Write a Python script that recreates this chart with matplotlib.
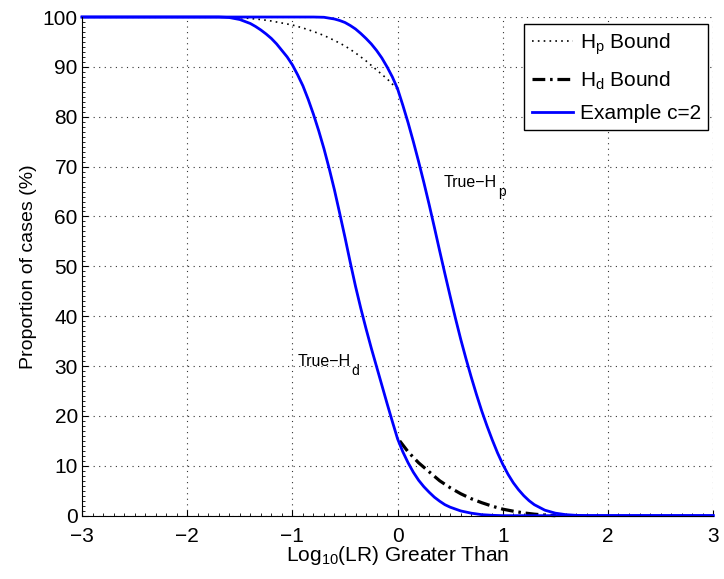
import matplotlib
matplotlib.use('Agg')
import matplotlib.pyplot as plt
from matplotlib.ticker import MultipleLocator

plt.rcParams['font.family'] = ['Liberation Sans', 'DejaVu Sans']
plt.rcParams['mathtext.fontset'] = 'custom'
plt.rcParams['mathtext.rm'] = 'Liberation Sans'
plt.rcParams['mathtext.it'] = 'Liberation Sans:italic'

# True-Hd example curve (c=2)
hd_x = [-3.0, -1.7, -1.6, -1.5, -1.45, -1.4, -1.35, -1.3, -1.25, -1.2, -1.15, -1.1,
        -1.05, -1.0, -0.95, -0.9, -0.85, -0.8, -0.75, -0.7, -0.65, -0.6, -0.55, -0.5,
        -0.45, -0.4, -0.35, -0.3, -0.25, -0.2, -0.15, -0.1, -0.05, 0.0, 0.05, 0.1,
        0.15, 0.2, 0.25, 0.3, 0.35, 0.4, 0.45, 0.5, 0.6, 0.7, 0.8, 0.9, 1.0, 3.0]
hd_y = [100, 100, 99.9, 99.5, 99.1, 98.7, 98.1, 97.4, 96.6, 95.7, 94.6, 93.3,
        92.0, 90.4, 88.4, 86.2, 83.5, 80.5, 77.2, 73.6, 69.6, 65.3, 60.6, 55.8,
        50.8, 46.0, 41.6, 37.5, 33.6, 29.9, 26.2, 22.5, 18.9, 15.4, 12.8, 10.6,
        8.7, 7.1, 5.8, 4.7, 3.7, 2.9, 2.2, 1.7, 0.95, 0.5, 0.2, 0.07, 0, 0]

# True-Hp example curve (c=2)
hp_x = [-3.0, -0.8, -0.7, -0.6, -0.55, -0.5, -0.45, -0.4, -0.35, -0.3, -0.25, -0.2,
        -0.15, -0.1, -0.05, 0.0, 0.05, 0.1, 0.15, 0.2, 0.25, 0.3, 0.35, 0.4, 0.45,
        0.5, 0.55, 0.6, 0.65, 0.7, 0.75, 0.8, 0.85, 0.9, 0.95, 1.0, 1.05, 1.1, 1.15,
        1.2, 1.25, 1.3, 1.4, 1.5, 1.6, 1.7, 1.8, 3.0]
hp_y = [100, 100, 99.95, 99.6, 99.3, 98.9, 98.3, 97.6, 96.7, 95.7, 94.6, 93.3,
        91.8, 90.0, 88.0, 85.6, 82.3, 78.8, 75.0, 71.0, 66.8, 62.4, 57.8, 53.1, 48.5,
        44.0, 39.6, 35.4, 31.5, 27.8, 24.3, 21.0, 18.0, 15.2, 12.6, 10.3, 8.3, 6.6, 5.2,
        4.0, 3.0, 2.2, 1.1, 0.5, 0.2, 0.06, 0, 0]

# bounds
hpb_x = [-1.6, -1.5, -1.4, -1.3, -1.2, -1.1, -1.0, -0.9, -0.8, -0.7, -0.6, -0.5,
         -0.4, -0.3, -0.2, -0.1, 0.0]
hpb_y = [100, 99.9, 99.7, 99.5, 99.2, 98.8, 98.4, 97.8, 97.1, 96.3, 95.3, 94.2,
         92.8, 91.2, 89.4, 87.6, 85.5]
hdb_x = [0.02, 0.1, 0.2, 0.3, 0.4, 0.5, 0.6, 0.7, 0.8, 0.9, 1.0, 1.1, 1.2, 1.3, 1.4, 1.5]
hdb_y = [15.0, 12.8, 10.6, 8.8, 7.0, 5.6, 4.4, 3.4, 2.6, 1.9, 1.3, 0.9, 0.55, 0.3, 0.12, 0]

fig = plt.figure(figsize=(7.24, 5.79), dpi=100)
ax = fig.add_axes([0.1133, 0.1094, 0.8717, 0.8612])

ax.plot(hpb_x, hpb_y, color='k', lw=1.2, ls=(0, (1, 2.5)), label=r'H$_\mathrm{p}$ Bound', clip_on=False)
ax.plot(hdb_x, hdb_y, color='k', lw=2.3, ls=(0, (4, 1.5, 0.8, 1.5)), label=r'H$_\mathrm{d}$ Bound', clip_on=False)
ax.plot(hd_x, hd_y, color='#0000ff', lw=2, label='Example c=2', clip_on=False)
ax.plot(hp_x, hp_y, color='#0000ff', lw=2, clip_on=False)

# curve labels, subscript drawn as its own text just after the main one
for x0, y0, sub in [(0.44, 66, 'p'), (-0.95, 30, 'd')]:
    t = ax.text(x0, y0, 'True\u2212H', fontsize=11.5)
    ax.annotate(sub, xy=(1.0, 0.22), xycoords=t, xytext=(0.5, 1), textcoords='offset points',
                va='top', ha='left', fontsize=10)

ax.set_xlim(-3, 3)
ax.set_ylim(0, 100)
ax.xaxis.set_major_locator(MultipleLocator(1))
ax.yaxis.set_major_locator(MultipleLocator(10))
ax.xaxis.set_minor_locator(MultipleLocator(0.1))
ax.yaxis.set_minor_locator(MultipleLocator(1))
ax.tick_params(which='major', direction='in', length=4, labelsize=15)
ax.tick_params(which='minor', direction='in', length=2)
ax.tick_params(axis='x', which='major', pad=8)
ax.tick_params(axis='y', which='major', pad=3)
ax.spines['top'].set_visible(False)
ax.spines['right'].set_visible(False)
ax.grid(True, which='major', ls=(0, (1, 4)), color='#333333', lw=0.8)

ax.set_xlabel(r'Log$_\mathrm{10}$(LR) Greater Than', fontsize=15, labelpad=-1)
ax.set_ylabel('Proportion of cases (%)', fontsize=14, labelpad=4)

leg = ax.legend(loc='upper right', bbox_to_anchor=(0.992, 0.986), borderaxespad=0,
                fontsize=15, fancybox=False, edgecolor='k', framealpha=1,
                handlelength=2.0, handletextpad=0.3, borderpad=0.35, labelspacing=0.6)
leg.get_frame().set_linewidth(1.0)

fig.savefig('out.png', dpi=100)
